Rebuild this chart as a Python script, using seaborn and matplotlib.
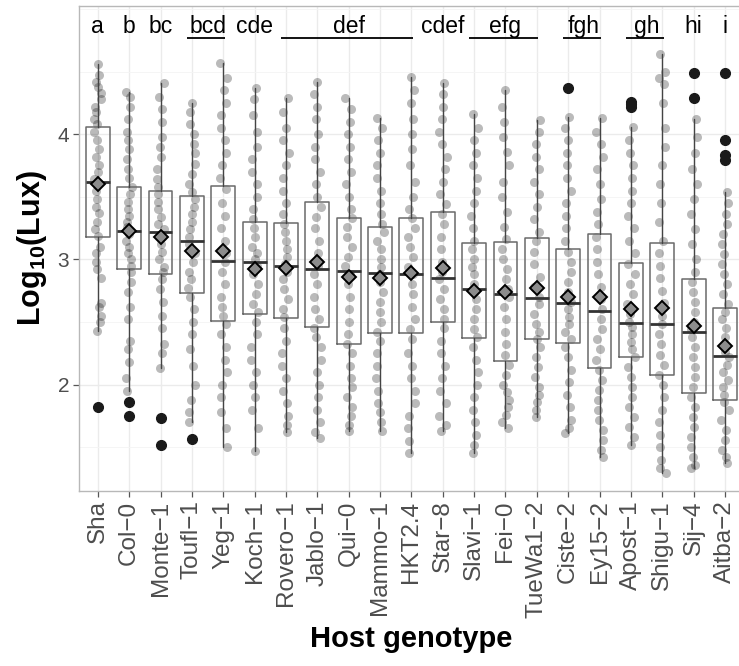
import numpy as np
import pandas as pd
import matplotlib
matplotlib.use("Agg")
import matplotlib.pyplot as plt
from matplotlib.ticker import MultipleLocator
import seaborn as sns

# ---------------- data ----------------
genotypes = ["Sha", "Col\u22120", "Monte\u22121", "Toufl\u22121", "Yeg\u22121", "Koch\u22121",
             "Rovero\u22121", "Jablo\u22121", "Qui\u22120", "Mammo\u22121", "HKT2.4", "Star\u22128",
             "Slavi\u22121", "Fei\u22120", "TueWa1\u22122", "Ciste\u22122", "Ey15\u22122",
             "Apost\u22121", "Shigu\u22121", "Sij\u22124", "Aitba\u22122"]

whisker_low = [2.43, 1.95, 2.13, 1.70, 1.50, 1.47, 1.62, 1.57, 1.63, 1.63, 1.45,
               1.63, 1.45, 1.65, 1.74, 1.61, 1.42, 1.52, 1.29, 1.33, 1.37]
q1_vals = [3.18, 2.92, 2.88, 2.73, 2.51, 2.56, 2.53, 2.46, 2.32, 2.41, 2.41,
           2.50, 2.37, 2.19, 2.36, 2.33, 2.13, 2.22, 2.08, 1.93, 1.88]
median_vals = [3.62, 3.23, 3.22, 3.15, 2.99, 2.98, 2.95, 2.92, 2.91, 2.89, 2.88,
               2.85, 2.76, 2.72, 2.69, 2.65, 2.59, 2.49, 2.48, 2.42, 2.23]
q3_vals = [4.06, 3.58, 3.55, 3.51, 3.59, 3.30, 3.29, 3.46, 3.33, 3.26, 3.33,
           3.38, 3.13, 3.14, 3.17, 3.08, 3.20, 2.97, 3.13, 2.84, 2.61]
whisker_high = [4.56, 4.34, 4.41, 4.25, 4.57, 4.37, 4.29, 4.42, 4.29, 4.13, 4.46,
                4.41, 4.16, 4.35, 4.11, 4.14, 4.13, 4.06, 4.64, 4.12, 3.54]
mean_vals = [3.60, 3.23, 3.18, 3.07, 3.07, 2.92, 2.93, 2.98, 2.86, 2.85, 2.89,
             2.93, 2.75, 2.74, 2.77, 2.70, 2.70, 2.60, 2.61, 2.47, 2.31]

outlier_group = [0, 1, 1, 2, 2, 3, 15, 17, 17, 17, 19, 19, 20, 20, 20, 20]
outlier_vals = [1.82, 1.86, 1.75, 1.73, 1.52, 1.565, 4.37, 4.26, 4.24, 4.22,
                4.49, 4.29, 4.49, 3.95, 3.83, 3.79]

letters = ["a", "b", "bc", "bcd", "cde", "def", "cdef", "efg", "fgh", "gh", "hi", "i"]
letter_first = [0, 1, 2, 3, 5, 6, 11, 12, 15, 17, 19, 20]
letter_last = [0, 1, 2, 4, 5, 10, 11, 14, 16, 18, 19, 20]

# individual observations (estimated from the jittered cloud)
sha_pts = [4.56, 4.47, 4.42, 4.38, 4.33, 4.28, 4.22, 4.18, 4.12, 4.08, 4.02, 3.95, 3.88, 3.82,
           3.75, 3.70, 3.64, 3.60, 3.55, 3.48, 3.42, 3.37, 3.30, 3.24, 3.19, 3.10, 3.05, 2.98,
           2.92, 2.85, 2.65, 2.62, 2.55, 2.50, 2.43]
col0_pts = [4.34, 4.30, 4.22, 4.12, 4.02, 3.95, 3.88, 3.80, 3.72, 3.65, 3.58, 3.52, 3.46, 3.40,
            3.35, 3.30, 3.26, 3.20, 3.15, 3.10, 3.05, 3.00, 2.95, 2.90, 2.82, 2.74, 2.62, 2.52,
            2.35, 2.28, 2.18, 2.05, 1.95]
monte1_pts = [4.41, 4.30, 4.20, 4.10, 3.98, 3.90, 3.82, 3.72, 3.64, 3.58, 3.52, 3.46, 3.40, 3.34,
              3.28, 3.24, 3.18, 3.12, 3.06, 3.00, 2.94, 2.90, 2.84, 2.76, 2.66, 2.55, 2.45, 2.32,
              2.25, 2.13]
toufl1_pts = [4.25, 4.18, 4.08, 4.00, 3.92, 3.85, 3.76, 3.68, 3.60, 3.54, 3.48, 3.42, 3.36, 3.30,
              3.24, 3.18, 3.12, 3.05, 2.98, 2.90, 2.84, 2.77, 2.70, 2.60, 2.50, 2.40, 2.28, 2.15,
              2.00, 1.88, 1.78, 1.70]
yeg1_pts = [4.57, 4.45, 4.35, 4.25, 4.15, 4.05, 3.95, 3.85, 3.75, 3.65, 3.56, 3.45, 3.35, 3.25,
            3.15, 3.05, 2.98, 2.90, 2.80, 2.70, 2.62, 2.55, 2.48, 2.40, 2.30, 2.20, 2.10, 2.00,
            1.90, 1.78, 1.65, 1.50]
koch1_pts = [4.37, 4.28, 4.15, 4.02, 3.90, 3.80, 3.70, 3.60, 3.50, 3.40, 3.32, 3.25, 3.18, 3.10,
             3.05, 3.00, 2.95, 2.88, 2.80, 2.72, 2.64, 2.58, 2.50, 2.40, 2.30, 2.20, 2.10, 2.00,
             1.90, 1.80, 1.65, 1.47]
rovero1_pts = [4.29, 4.18, 4.05, 3.95, 3.85, 3.75, 3.65, 3.55, 3.45, 3.36, 3.28, 3.22, 3.15, 3.08,
               3.02, 2.96, 2.90, 2.84, 2.76, 2.68, 2.60, 2.54, 2.45, 2.35, 2.25, 2.15, 2.05, 1.95,
               1.85, 1.75, 1.68, 1.62]
jablo1_pts = [4.42, 4.32, 4.22, 4.12, 4.00, 3.90, 3.80, 3.70, 3.60, 3.50, 3.42, 3.34, 3.25, 3.15,
              3.05, 2.95, 2.88, 2.80, 2.70, 2.60, 2.52, 2.45, 2.38, 2.30, 2.20, 2.10, 2.00, 1.90,
              1.80, 1.70, 1.62, 1.57]
qui0_pts = [4.29, 4.20, 4.10, 4.00, 3.90, 3.80, 3.70, 3.60, 3.50, 3.40, 3.33, 3.26, 3.18, 3.10,
            3.02, 2.95, 2.88, 2.80, 2.70, 2.60, 2.50, 2.40, 2.32, 2.25, 2.15, 2.05, 1.98, 1.90,
            1.82, 1.75, 1.68, 1.63]
mammo1_pts = [4.13, 4.05, 3.95, 3.85, 3.75, 3.65, 3.55, 3.45, 3.36, 3.28, 3.22, 3.15, 3.08, 3.00,
              2.94, 2.88, 2.82, 2.74, 2.66, 2.58, 2.50, 2.42, 2.35, 2.25, 2.15, 2.05, 1.95, 1.85,
              1.78, 1.70, 1.63]
hkt24_pts = [4.46, 4.35, 4.25, 4.12, 4.00, 3.88, 3.75, 3.62, 3.50, 3.40, 3.33, 3.25, 3.18, 3.10,
             3.02, 2.94, 2.88, 2.80, 2.72, 2.62, 2.52, 2.44, 2.36, 2.25, 2.15, 2.05, 1.95, 1.85,
             1.75, 1.65, 1.55, 1.45]
star8_pts = [4.41, 4.32, 4.22, 4.12, 4.02, 3.92, 3.82, 3.72, 3.62, 3.52, 3.44, 3.36, 3.28, 3.18,
             3.08, 2.98, 2.90, 2.84, 2.76, 2.68, 2.60, 2.52, 2.45, 2.35, 2.25, 2.15, 2.05, 1.95,
             1.85, 1.75, 1.68, 1.63]
slavi1_pts = [4.16, 4.05, 3.95, 3.85, 3.75, 3.65, 3.55, 3.45, 3.35, 3.25, 3.15, 3.08, 3.00, 2.94,
              2.88, 2.80, 2.75, 2.68, 2.60, 2.52, 2.44, 2.38, 2.30, 2.20, 2.10, 2.00, 1.90, 1.80,
              1.70, 1.60, 1.52, 1.45]
fei0_pts = [4.35, 4.22, 4.10, 3.98, 3.86, 3.75, 3.62, 3.50, 3.38, 3.26, 3.16, 3.08, 3.00, 2.92,
            2.84, 2.76, 2.70, 2.62, 2.52, 2.42, 2.32, 2.24, 2.16, 2.08, 2.00, 1.94, 1.88, 1.82,
            1.76, 1.70, 1.65]
tuewa12_pts = [4.11, 4.02, 3.92, 3.82, 3.72, 3.62, 3.52, 3.42, 3.32, 3.22, 3.15, 3.06, 2.96, 2.86,
               2.78, 2.70, 2.64, 2.56, 2.48, 2.42, 2.36, 2.30, 2.22, 2.14, 2.06, 1.98, 1.92, 1.86,
               1.80, 1.74]
ciste2_pts = [4.14, 4.05, 3.95, 3.85, 3.75, 3.65, 3.55, 3.45, 3.35, 3.25, 3.15, 3.06, 2.98, 2.90,
              2.82, 2.74, 2.66, 2.60, 2.54, 2.48, 2.42, 2.36, 2.30, 2.22, 2.12, 2.02, 1.92, 1.82,
              1.72, 1.65, 1.61]
ey152_pts = [4.13, 4.02, 3.92, 3.82, 3.72, 3.60, 3.48, 3.38, 3.28, 3.18, 3.08, 2.98, 2.88, 2.78,
             2.68, 2.60, 2.52, 2.44, 2.36, 2.28, 2.20, 2.12, 2.04, 1.96, 1.88, 1.80, 1.72, 1.64,
             1.56, 1.48, 1.42]
apost1_pts = [4.06, 3.95, 3.85, 3.75, 3.65, 3.55, 3.45, 3.35, 3.25, 3.15, 3.05, 2.96, 2.88, 2.80,
              2.72, 2.64, 2.56, 2.50, 2.46, 2.40, 2.34, 2.28, 2.22, 2.14, 2.06, 1.98, 1.90, 1.82,
              1.74, 1.66, 1.58, 1.52]
shigu1_pts = [4.64, 4.50, 4.45, 4.40, 4.25, 4.05, 3.90, 3.75, 3.60, 3.45, 3.30, 3.15, 3.05, 2.95,
              2.85, 2.75, 2.65, 2.55, 2.48, 2.40, 2.32, 2.24, 2.16, 2.08, 2.00, 1.90, 1.80, 1.70,
              1.60, 1.50, 1.40, 1.33, 1.29]
sij4_pts = [4.12, 3.98, 3.85, 3.72, 3.60, 3.48, 3.36, 3.24, 3.12, 3.00, 2.90, 2.82, 2.74, 2.66,
            2.58, 2.50, 2.44, 2.38, 2.30, 2.22, 2.14, 2.06, 1.98, 1.90, 1.82, 1.74, 1.66, 1.58,
            1.50, 1.42, 1.36, 1.33]
aitba2_pts = [3.54, 3.45, 3.36, 3.28, 3.20, 3.12, 3.04, 2.96, 2.88, 2.80, 2.72, 2.64, 2.58, 2.52,
              2.45, 2.38, 2.32, 2.26, 2.22, 2.16, 2.10, 2.04, 1.98, 1.92, 1.86, 1.80, 1.72, 1.64,
              1.56, 1.48, 1.42, 1.37]

cloud = [sha_pts, col0_pts, monte1_pts, toufl1_pts, yeg1_pts, koch1_pts, rovero1_pts,
         jablo1_pts, qui0_pts, mammo1_pts, hkt24_pts, star8_pts, slavi1_pts, fei0_pts,
         tuewa12_pts, ciste2_pts, ey152_pts, apost1_pts, shigu1_pts, sij4_pts, aitba2_pts]

# ---------------- figure ----------------
sns.set_theme(style="white")
plt.rcParams["font.family"] = ["Liberation Sans", "DejaVu Sans"]
plt.rcParams["mathtext.fontset"] = "custom"
plt.rcParams["mathtext.rm"] = "Liberation Sans"
plt.rcParams["mathtext.bf"] = "Liberation Sans:bold"

fig = plt.figure(figsize=(7.39, 6.66), dpi=100)
ax = fig.add_axes([79 / 739, 1 - 490.7 / 666, (743.8 - 79) / 739, (490.7 - 6) / 666])

df = pd.DataFrame({
    "genotype": np.repeat(genotypes, [len(c) for c in cloud]),
    "value": np.concatenate([np.asarray(c, float) for c in cloud]),
})

np.random.seed(3)
sns.stripplot(data=df, x="genotype", y="value", order=genotypes, color="black",
              alpha=0.27, size=6.5, jitter=0.12, linewidth=0, ax=ax, zorder=2)

stats = []
for i in range(len(genotypes)):
    fl = [v for g, v in zip(outlier_group, outlier_vals) if g == i]
    stats.append(dict(med=median_vals[i], q1=q1_vals[i], q3=q3_vals[i],
                      whislo=whisker_low[i], whishi=whisker_high[i],
                      mean=mean_vals[i], fliers=fl))
pos = np.arange(len(genotypes))
ax.bxp(stats, positions=pos, widths=0.76, showmeans=True, showfliers=True,
       patch_artist=False, manage_ticks=False,
       boxprops=dict(color="#6a6a6a", linewidth=1.1),
       medianprops=dict(color="#333333", linewidth=2.0),
       whiskerprops=dict(color="#444444", linewidth=1.0),
       capprops=dict(linewidth=0),
       flierprops=dict(marker="o", markerfacecolor="#1a1a1a", markeredgecolor="#1a1a1a",
                       markersize=7),
       meanprops=dict(marker="D", markerfacecolor="#8c8c8c", markeredgecolor="black",
                      markeredgewidth=1.4, markersize=7.5),
       zorder=3)

# significance letters
for lab, a, b in zip(letters, letter_first, letter_last):
    xc = (a + b) / 2
    ax.text(xc, 4.812, lab, ha="center", va="baseline", fontsize=16.5, color="black", zorder=5)
    if b > a:
        ax.plot([a - 0.17, b + 0.05], [4.765, 4.765], color="black", lw=1.3,
                solid_capstyle="butt", zorder=5)

ax.set_xlim(-0.6, len(genotypes) - 0.4)
ax.set_ylim(1.152, 5.024)
ax.yaxis.set_major_locator(MultipleLocator(1))
ax.yaxis.set_minor_locator(MultipleLocator(0.5))
ax.set_yticks([2, 3, 4])
ax.set_xticks(pos)
ax.set_xticklabels(genotypes, rotation=90, ha="center", va="top")

ax.grid(True, which="major", color="#ebebeb", lw=1.0, zorder=0)
ax.grid(True, which="minor", axis="y", color="#f4f4f4", lw=0.6, zorder=0)
ax.set_axisbelow(True)

for s in ax.spines.values():
    s.set_color("#b8b8b8")
    s.set_linewidth(1.0)
ax.tick_params(axis="both", which="major", direction="out", length=4, width=0.9,
               color="#555555", labelcolor="#4d4d4d", labelsize=15, pad=3)
ax.tick_params(axis="x", which="major", labelsize=17.5)
ax.tick_params(axis="y", which="minor", length=0)
ax.tick_params(left=True, bottom=True)

ax.set_xlabel("Host genotype", fontsize=21, fontweight="bold", color="black", labelpad=5)
ax.set_ylabel(r"$\mathbf{Log_{10}(Lux)}$", fontsize=22, color="black", labelpad=6)

fig.savefig("out.png", dpi=100)
